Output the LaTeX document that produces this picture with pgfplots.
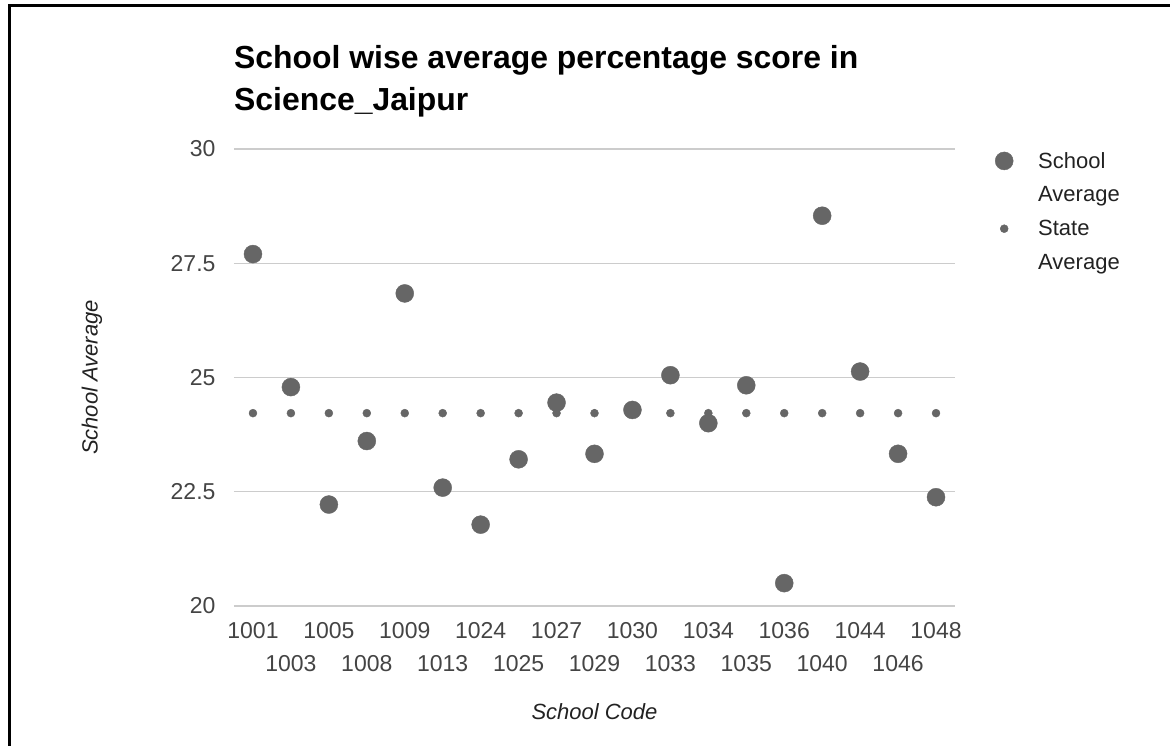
\documentclass[border=0pt]{standalone}
\usepackage{fontspec}
\setmainfont{Liberation Sans}
\usepackage{pgfplots}
\pgfplotsset{compat=1.18}

\definecolor{markgray}{HTML}{666666}
\definecolor{gridgray}{HTML}{CCCCCC}
\definecolor{ticktext}{HTML}{444444}
\definecolor{labtext}{HTML}{222222}

% x = position, code = school code, school = school average, state = state average
\pgfplotstableread{
x  code  school  state
0  1001  27.70   24.22
1  1003  24.79   24.22
2  1005  22.22   24.22
3  1008  23.61   24.22
4  1009  26.84   24.22
5  1013  22.59   24.22
6  1024  21.78   24.22
7  1025  23.21   24.22
8  1027  24.45   24.22
9  1029  23.33   24.22
10 1030  24.29   24.22
11 1033  25.05   24.22
12 1034  24.00   24.22
13 1035  24.83   24.22
14 1036  20.50   24.22
15 1040  28.54   24.22
16 1044  25.13   24.22
17 1046  23.33   24.22
18 1048  22.38   24.22
}\scores

\begin{document}
\begin{tikzpicture}
\useasboundingbox (-234pt,-140pt) rectangle (936pt,606pt);
% frame of the screenshot (left and top edges only)
\draw[line width=3pt, black] (-224.7pt,-141pt) -- (-224.7pt,600pt) -- (937pt,600pt);
\begin{axis}[
  at={(0pt,0pt)}, anchor=south west,
  scale only axis, width=721pt, height=457pt,
  xmin=-0.5, xmax=18.5, ymin=20, ymax=30,
  ytick={20,22.5,25,27.5,30},
  xtick={0,2,...,18},
  xticklabels={1001,1005,1009,1024,1027,1030,1034,1036,1044,1048},
  extra x ticks={1,3,...,17},
  extra x tick labels={1003,1008,1013,1025,1029,1033,1035,1040,1046},
  extra x tick style={xticklabel style={yshift=-33pt}},
  ymajorgrids, grid style={gridgray, line width=1.3pt},
  axis line style={draw=none},
  major tick length=0pt,
  /pgf/number format/assume math mode=true,
  tick label style={font=\fontsize{23}{27}\selectfont, text=ticktext},
  yticklabel style={xshift=-15pt},
  xticklabel style={yshift=-13pt},
  xlabel={School Code},
  ylabel={School Average},
  xlabel style={at={(axis description cs:0.5,-0.232)}, anchor=center,
    font=\itshape\fontsize{22}{26}\selectfont, text=labtext},
  ylabel style={at={(axis description cs:-0.197,0.5)}, anchor=center,
    font=\itshape\fontsize{22}{26}\selectfont, text=labtext},
  title={School wise average percentage score in\\Science\_Jaipur},
  title style={at={(axis description cs:0,1)}, anchor=south west, align=left,
    inner sep=0pt, yshift=26pt, font=\bfseries\fontsize{31.9}{42}\selectfont, text=black},
  legend style={at={(axis description cs:1,1)}, anchor=north west, draw=none, fill=none,
    xshift=37pt, yshift=1pt, font=\fontsize{22}{26}\selectfont, text=labtext,
    column sep=23pt, row sep=13pt},
  legend cell align=left,
]
\addplot[only marks, color=markgray, mark=*, mark size=9pt,
  mark options={fill=markgray, draw=markgray}]
  table[x=x, y=school] {\scores};
\addlegendentry{School}
\addlegendimage{empty legend}
\addlegendentry{Average}
\addplot[only marks, color=markgray, mark=*, mark size=4pt,
  mark options={fill=markgray, draw=markgray}]
  table[x=x, y=state] {\scores};
\addlegendentry{State}
\addlegendimage{empty legend}
\addlegendentry{Average}
\end{axis}
\end{tikzpicture}
\end{document}
